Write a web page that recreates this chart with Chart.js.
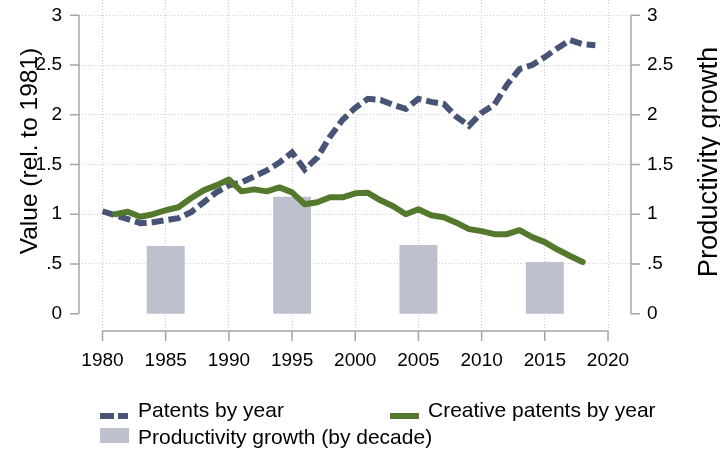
<!DOCTYPE html>
<html>
<head>
<meta charset="utf-8">
<script src="https://cdn.jsdelivr.net/npm/chart.js@4"></script>
<style>
  html, body { margin: 0; padding: 0; background: #fff; }
  #wrap { width: 720px; height: 449px; }
</style>
</head>
<body>
<div id="wrap"><canvas id="chart" width="720" height="449"></canvas></div>
<script>
// yearly series
const years = [1980, 1981, 1982, 1983, 1984, 1985, 1986, 1987, 1988, 1989,
               1990, 1991, 1992, 1993, 1994, 1995, 1996, 1997, 1998, 1999,
               2000, 2001, 2002, 2003, 2004, 2005, 2006, 2007, 2008, 2009,
               2010, 2011, 2012, 2013, 2014, 2015, 2016, 2017, 2018, 2019];
const patents = [1.03, 0.99, 0.95, 0.91, 0.92, 0.94, 0.96, 1.02, 1.12, 1.22,
                 1.29, 1.32, 1.38, 1.44, 1.52, 1.62, 1.45, 1.57, 1.78, 1.95,
                 2.07, 2.16, 2.15, 2.10, 2.06, 2.16, 2.13, 2.11, 1.98, 1.89,
                 2.02, 2.10, 2.30, 2.46, 2.50, 2.58, 2.67, 2.75, 2.71, 2.70];

const creativeYears = [1981, 1982, 1983, 1984, 1985, 1986, 1987, 1988, 1989,
                       1990, 1991, 1992, 1993, 1994, 1995, 1996, 1997, 1998, 1999,
                       2000, 2001, 2002, 2003, 2004, 2005, 2006, 2007, 2008, 2009,
                       2010, 2011, 2012, 2013, 2014, 2015, 2016, 2017, 2018];
const creative = [1.00, 1.025, 0.975, 1.00, 1.04, 1.07, 1.16, 1.24, 1.29,
                  1.35, 1.23, 1.25, 1.23, 1.27, 1.22, 1.10, 1.12, 1.17, 1.17,
                  1.21, 1.215, 1.14, 1.08, 1.00, 1.05, 0.99, 0.97, 0.915, 0.85,
                  0.83, 0.80, 0.80, 0.84, 0.77, 0.72, 0.645, 0.58, 0.52];

// decade bars
const decades = [1985, 1995, 2005, 2015];
const productivity = [0.68, 1.175, 0.69, 0.52];

const xTicks = [1980, 1985, 1990, 1995, 2000, 2005, 2010, 2015, 2020];
const yTicks = [0, 0.5, 1, 1.5, 2, 2.5, 3];

const navy = 'rgb(72, 84, 118)';
const green = 'rgb(84, 121, 45)';
const barGray = 'rgb(189, 192, 205)';
const gridGray = 'rgb(205, 205, 205)';
const axisGray = 'rgb(165, 165, 165)';
const fontFamily = '"Liberation Sans", Arial, Helvetica, sans-serif';

const fmtY = v => (v === 0 ? '0' : String(v).replace(/^0\./, '.'));

// Stata-like axes, titles and legend
const stataDecor = {
  id: 'stataDecor',
  afterDraw(chart) {
    const ctx = chart.ctx;
    const area = chart.chartArea;
    const sx = chart.scales.x, sy = chart.scales.y, sy2 = chart.scales.y2;
    const y0 = sy.getPixelForValue(yTicks[0]);
    const y1 = sy.getPixelForValue(yTicks[yTicks.length - 1]);
    ctx.save();
    ctx.strokeStyle = axisGray;
    ctx.lineWidth = 1.5;
    ctx.beginPath();
    // left axis
    ctx.moveTo(area.left, y0); ctx.lineTo(area.left, y1);
    yTicks.forEach(v => {
      const p = sy.getPixelForValue(v);
      ctx.moveTo(area.left - 9, p); ctx.lineTo(area.left, p);
    });
    // right axis
    ctx.moveTo(area.right, sy2.getPixelForValue(yTicks[0]));
    ctx.lineTo(area.right, sy2.getPixelForValue(yTicks[yTicks.length - 1]));
    yTicks.forEach(v => {
      const p = sy2.getPixelForValue(v);
      ctx.moveTo(area.right, p); ctx.lineTo(area.right + 9, p);
    });
    // bottom axis
    const xa = sx.getPixelForValue(xTicks[0]);
    const xb = sx.getPixelForValue(xTicks[xTicks.length - 1]);
    ctx.moveTo(xa, area.bottom); ctx.lineTo(xb, area.bottom);
    xTicks.forEach(v => {
      const p = sx.getPixelForValue(v);
      ctx.moveTo(p, area.bottom); ctx.lineTo(p, area.bottom + 10);
    });
    ctx.stroke();

    // axis titles
    ctx.fillStyle = '#000';
    ctx.textAlign = 'center';
    ctx.textBaseline = 'alphabetic';
    ctx.save();
    ctx.translate(37, 151);
    ctx.rotate(-Math.PI / 2);
    ctx.font = '24.5px ' + fontFamily;
    ctx.fillText('Value (rel. to 1981)', 0, 0);
    ctx.restore();
    ctx.save();
    ctx.translate(717, 162);
    ctx.rotate(-Math.PI / 2);
    ctx.font = '27.3px ' + fontFamily;
    ctx.fillText('Productivity growth', 0, 0);
    ctx.restore();

    // legend
    const ds = chart.data.datasets;
    ctx.textAlign = 'left';
    ctx.font = '21px ' + fontFamily;
    ctx.fillStyle = navy;
    ctx.fillRect(100, 413, 14, 6);
    ctx.fillRect(118, 413, 10, 6);
    ctx.fillStyle = green;
    ctx.fillRect(390, 413, 29, 6);
    ctx.fillStyle = barGray;
    ctx.fillRect(100, 428, 29, 15);
    ctx.fillStyle = '#000';
    ctx.fillText(ds[0].label, 138, 417);
    ctx.fillText(ds[1].label, 428, 417);
    ctx.fillText(ds[2].label, 138, 444);
    ctx.restore();
  }
};

const tickFont = { family: fontFamily, size: 19 };

new Chart(document.getElementById('chart').getContext('2d'), {
  data: {
    datasets: [
      {
        type: 'line',
        label: 'Patents by year',
        data: years.map((yr, i) => ({ x: yr, y: patents[i] })),
        borderColor: navy,
        borderWidth: 6,
        borderDash: [12, 5],
        borderCapStyle: 'butt',
        borderJoinStyle: 'miter',
        pointRadius: 0,
        tension: 0,
        yAxisID: 'y',
        order: 2,
      },
      {
        type: 'line',
        label: 'Creative patents by year',
        data: creativeYears.map((yr, i) => ({ x: yr, y: creative[i] })),
        borderColor: green,
        borderWidth: 6,
        borderCapStyle: 'round',
        borderJoinStyle: 'round',
        pointRadius: 0,
        tension: 0,
        yAxisID: 'y',
        order: 1,
      },
      {
        type: 'bar',
        label: 'Productivity growth (by decade)',
        data: decades.map((yr, i) => ({ x: yr, y: productivity[i] })),
        backgroundColor: barGray,
        borderWidth: 0,
        categoryPercentage: 1,
        barPercentage: 0.6,
        yAxisID: 'y2',
        order: 3,
      },
    ],
  },
  options: {
    responsive: false,
    animation: false,
    devicePixelRatio: 1,
    layout: { padding: 0 },
    plugins: {
      legend: { display: false },
      tooltip: { enabled: false },
    },
    scales: {
      x: {
        type: 'linear',
        offset: false,
        min: 1978.14,
        max: 2021.82,
        afterBuildTicks: s => { s.ticks = xTicks.map(v => ({ value: v })); },
        afterFit: s => { s.height = 118; s.paddingLeft = 0; s.paddingRight = 0; },
        grid: { color: gridGray, lineWidth: 1, drawTicks: false, offset: false },
        border: { display: false, dash: [1, 2] },
        ticks: {
          font: tickFont, color: '#000', padding: 18,
          maxRotation: 0, autoSkip: false,
          callback: v => String(v),
        },
      },
      y: {
        type: 'linear',
        position: 'left',
        min: -0.174,
        max: 3.154,
        afterBuildTicks: s => { s.ticks = yTicks.map(v => ({ value: v })); },
        afterFit: s => { s.width = 79; s.paddingTop = 0; s.paddingBottom = 0; },
        grid: {
          color: c => (c.tick && c.tick.value === 0 ? 'rgba(0,0,0,0)' : gridGray),
          lineWidth: 1,
          drawTicks: false,
        },
        border: { display: false, dash: [1, 2] },
        ticks: { font: tickFont, color: '#000', padding: 17, callback: fmtY },
      },
      y2: {
        type: 'linear',
        position: 'right',
        min: -0.174,
        max: 3.154,
        afterBuildTicks: s => { s.ticks = yTicks.map(v => ({ value: v })); },
        afterFit: s => { s.width = 89; s.paddingTop = 0; s.paddingBottom = 0; },
        grid: { display: false, drawTicks: false },
        border: { display: false },
        ticks: { font: tickFont, color: '#000', padding: 16, callback: fmtY },
      },
    },
  },
  plugins: [stataDecor],
});
</script>
</body>
</html>
